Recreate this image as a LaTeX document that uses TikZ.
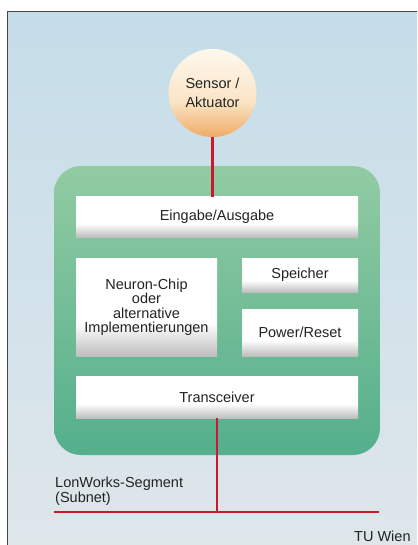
\documentclass[tikz,border=0pt]{standalone}
\usepackage{fontspec}
\setmainfont{Liberation Sans}
\definecolor{bgtop}{RGB}{197,221,233}
\definecolor{bgbot}{RGB}{222,230,234}
\definecolor{grtop}{RGB}{146,203,163}
\definecolor{grbot}{RGB}{84,175,140}
\definecolor{busred}{RGB}{200,25,45}
\definecolor{txt}{RGB}{35,35,35}
\definecolor{framec}{RGB}{70,70,70}
\definecolor{balltop}{RGB}{254,248,238}
\definecolor{ballmid}{RGB}{250,228,196}
\definecolor{ballbot}{RGB}{240,170,102}
\definecolor{boxbot}{RGB}{190,190,190}
\pgfdeclareverticalshading{boxshade}{100bp}{color(0bp)=(boxbot); color(25bp)=(boxbot); color(42bp)=(white); color(100bp)=(white)}
\pgfdeclareverticalshading{ballshade}{100bp}{color(0bp)=(ballbot); color(25bp)=(ballbot); color(45bp)=(ballmid); color(75bp)=(balltop); color(100bp)=(balltop)}
\tikzset{
  unitbox/.style={shading=boxshade, inner sep=0pt, align=center, text=txt,
    font=\fontsize{14.5}{14.5}\selectfont},
  ball/.style={circle, shading=ballshade, minimum size=88pt, inner sep=0pt, align=center,
    text=txt, font=\fontsize{14.5}{19}\selectfont},
  bus/.style={busred, line width=2.4pt},
  plain/.style={text=txt, inner sep=0pt, font=\fontsize{14.5}{15}\selectfont}
}
\begin{document}
\begin{tikzpicture}[x=1pt,y=-1pt]
\useasboundingbox (0,0) rectangle (417,545);
% background
\shade[top color=bgtop, bottom color=bgbot] (7,12) rectangle (417,545);
\draw[framec, line width=1pt] (7,545) -- (7,12) -- (417,12);
% green carrier
\shade[top color=grtop, bottom color=grbot, rounded corners=27pt] (54,166) rectangle (380,455);
% sensor
\node[ball] (sensor) at (212.5,93) {Sensor /\\Aktuator};
% boxes
\node[unitbox, minimum width=282pt, minimum height=40pt] (ein) at (217,217) {Eingabe/Ausgabe};
\node[unitbox, minimum width=141pt, minimum height=98pt] (neuron) at (146.5,307) {Neuron-Chip\\oder\\alternative\\Implementierungen};
\node[unitbox, minimum width=116pt, minimum height=34pt] (speicher) at (300,275) {Speicher};
\node[unitbox, minimum width=116pt, minimum height=47pt] (power) at (300,332.5) {Power/Reset};
\node[unitbox, minimum width=282pt, minimum height=42pt] (trans) at (217,397) {Transceiver};
% bus
\coordinate (busL) at (54,512);
\coordinate (busR) at (379,512);
\coordinate (tap) at (trans.south |- busL);
\draw[bus] (sensor.south) -- (sensor.south |- ein.north);
\draw[bus] (trans.south) -- (tap);
\draw[bus] (busL) -- (busR);
% labels
\node[plain, align=left, anchor=south west] (seg) at (55,505.5) {LonWorks-Segment\\(Subnet)};
\node[plain, anchor=base west] (tu) at (354,541.5) {TU Wien};
\end{tikzpicture}
\end{document}
